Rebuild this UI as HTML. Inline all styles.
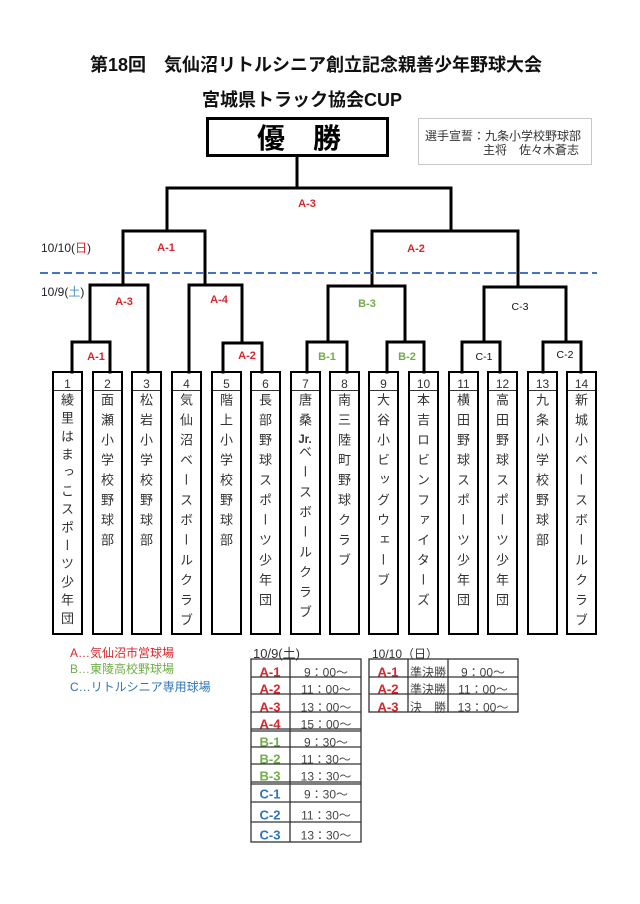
<!DOCTYPE html>
<html><head><meta charset="utf-8">
<style>
html,body{margin:0;padding:0;background:#fff;}
body{width:640px;height:904px;position:relative;overflow:hidden;font-family:"Liberation Sans","Noto Sans CJK JP",sans-serif;}
.a{position:absolute;white-space:nowrap;}
.c{position:absolute;white-space:nowrap;transform:translate(-50%,-50%);}
.lbl{font-size:11px;font-weight:bold;}
.r{color:#d9262c;} .g{color:#70ad47;} .b{color:#2e75b6;}
.box{position:absolute;top:371px;width:31px;height:264px;border:2.5px solid #000;box-sizing:border-box;}
.num{position:absolute;left:0;right:0;top:0;height:17px;border-bottom:1px solid #333;font-size:12px;color:#333;text-align:center;line-height:22px;font-family:"Liberation Sans",sans-serif;}
.vt{position:absolute;left:0;top:20px;width:26px;line-height:26px;writing-mode:vertical-rl;font-family:"Noto Sans CJK JP",sans-serif;font-size:13px;letter-spacing:7px;color:#333;}
.tcu{text-combine-upright:all;font-family:"Liberation Sans",sans-serif;font-weight:bold;font-size:12px;}
.tm{font-size:12px;color:#444;font-family:"Liberation Sans","Noto Sans CJK JP",sans-serif;}
.tl{font-size:13px;font-weight:bold;}
</style></head><body>

<!-- Title -->
<div class="a" style="left:90px;top:53px;font-size:18px;font-weight:bold;line-height:24px;color:#111;">第18回　気仙沼リトルシニア創立記念親善少年野球大会</div>
<div class="a" style="left:202px;top:88px;font-size:18px;font-weight:bold;line-height:24px;color:#111;">宮城県トラック協会CUP</div>

<!-- Champion box -->
<div class="a" style="left:206px;top:117px;width:183px;height:40px;border:3px solid #000;box-sizing:border-box;"></div>
<div class="c" style="left:299px;top:137px;font-size:28px;font-weight:bold;font-family:'Noto Sans CJK JP',sans-serif;line-height:32px;">優　勝</div>

<!-- Info box -->
<div class="a" style="left:418px;top:118px;width:174px;height:47px;border:1px solid #c8c8c8;box-sizing:border-box;"></div>
<div class="a" style="left:425px;top:128px;font-size:12px;line-height:16px;color:#333;font-family:'Noto Sans CJK JP',sans-serif;">選手宣誓：九条小学校野球部</div>
<div class="a" style="right:61px;top:142px;font-size:12px;line-height:16px;color:#333;font-family:'Noto Sans CJK JP',sans-serif;">主将　佐々木蒼志</div>

<!-- Date labels -->
<div class="a" style="left:41px;top:240px;font-size:12px;line-height:16px;color:#222;">10/10(<span class="r">日</span>)</div>
<div class="a" style="left:41px;top:284px;font-size:12px;line-height:16px;color:#222;">10/9(<span style="color:#4a8fc4">土</span>)</div>

<!-- Bracket lines -->
<svg class="a" style="left:0;top:0" width="640" height="904" viewBox="0 0 640 904">
<g fill="none" stroke="#000" stroke-width="3" stroke-linecap="square">
<path d="M297 157 V188"/>
<path d="M167 231 V188 H451 V231"/>
<path d="M123 285 V231 H205 V285"/>
<path d="M372 286 V231 H518 V287"/>
<path d="M90 342 V285 H148 V372"/>
<path d="M189 372 V285 H242 V343"/>
<path d="M72 372 V342 H110 V372"/>
<path d="M223 372 V343 H262 V372"/>
<path d="M328 342 V286 H405 V342"/>
<path d="M307 372 V342 H347 V372"/>
<path d="M387 372 V342 H424 V372"/>
<path d="M484 342 V287 H566 V342"/>
<path d="M462 372 V342 H500 V372"/>
<path d="M543 372 V342 H581 V372"/>
</g>
<line x1="40" y1="273" x2="597" y2="273" stroke="#4472c4" stroke-width="2" stroke-dasharray="8 4"/>
</svg>

<!-- Bracket labels -->
<div class="c lbl r" style="left:307px;top:204px;">A-3</div>
<div class="c lbl r" style="left:166px;top:248px;">A-1</div>
<div class="c lbl r" style="left:416px;top:249px;">A-2</div>
<div class="c lbl r" style="left:124px;top:302px;">A-3</div>
<div class="c lbl r" style="left:219px;top:300px;">A-4</div>
<div class="c lbl g" style="left:367px;top:304px;">B-3</div>
<div class="c" style="left:520px;top:307px;font-size:10.5px;color:#111;">C-3</div>
<div class="c lbl r" style="left:96px;top:357px;">A-1</div>
<div class="c lbl r" style="left:247px;top:356px;">A-2</div>
<div class="c lbl g" style="left:327px;top:357px;">B-1</div>
<div class="c lbl g" style="left:407px;top:357px;">B-2</div>
<div class="c" style="left:484px;top:357px;font-size:10.5px;color:#111;">C-1</div>
<div class="c" style="left:565px;top:355px;font-size:10.5px;color:#111;">C-2</div>

<!-- Team boxes -->
<div class="box" style="left:52px;"><div class="num">1</div><div class="vt" style="letter-spacing:5.2px;">綾里はまっこスポーツ少年団</div></div>
<div class="box" style="left:92px;"><div class="num">2</div><div class="vt">面瀬小学校野球部</div></div>
<div class="box" style="left:131px;"><div class="num">3</div><div class="vt">松岩小学校野球部</div></div>
<div class="box" style="left:171px;"><div class="num">4</div><div class="vt">気仙沼ベースボールクラブ</div></div>
<div class="box" style="left:211px;"><div class="num">5</div><div class="vt">階上小学校野球部</div></div>
<div class="box" style="left:250px;"><div class="num">6</div><div class="vt">長部野球スポーツ少年団</div></div>
<div class="box" style="left:290px;"><div class="num">7</div><div class="vt">唐桑<span class="tcu">Jr.</span>ベースボールクラブ</div></div>
<div class="box" style="left:329px;"><div class="num">8</div><div class="vt">南三陸町野球クラブ</div></div>
<div class="box" style="left:368px;"><div class="num">9</div><div class="vt">大谷小ビッグウェーブ</div></div>
<div class="box" style="left:408px;"><div class="num">10</div><div class="vt">本吉ロビンファイターズ</div></div>
<div class="box" style="left:448px;"><div class="num">11</div><div class="vt">横田野球スポーツ少年団</div></div>
<div class="box" style="left:487px;"><div class="num">12</div><div class="vt">高田野球スポーツ少年団</div></div>
<div class="box" style="left:527px;"><div class="num">13</div><div class="vt">九条小学校野球部</div></div>
<div class="box" style="left:566px;"><div class="num">14</div><div class="vt">新城小ベースボールクラブ</div></div>

<!-- Legend -->
<div class="a r" style="left:70px;top:645px;font-size:12px;line-height:16px;">A…気仙沼市営球場</div>
<div class="a g" style="left:70px;top:661px;font-size:12px;line-height:16px;">B…東陵高校野球場</div>
<div class="a b" style="left:70px;top:679px;font-size:12px;line-height:16px;">C…リトルシニア専用球場</div>

<!-- Schedule headers -->
<div class="a" style="left:253px;top:646px;font-size:13px;line-height:16px;color:#333;">10/9(土)</div>
<div class="a" style="left:372px;top:646px;font-size:12px;line-height:16px;color:#333;">10/10（日）</div>

<!-- Left table text -->
<div class="c tl r" style="left:270px;top:672px;">A-1</div><div class="c tm" style="left:326px;top:672px;">9：00～</div>
<div class="c tl r" style="left:270px;top:689px;">A-2</div><div class="c tm" style="left:326px;top:689px;">11：00～</div>
<div class="c tl r" style="left:270px;top:707px;">A-3</div><div class="c tm" style="left:326px;top:707px;">13：00～</div>
<div class="c tl r" style="left:270px;top:724px;">A-4</div><div class="c tm" style="left:326px;top:724px;">15：00～</div>
<div class="c tl g" style="left:270px;top:742px;">B-1</div><div class="c tm" style="left:326px;top:742px;">9：30～</div>
<div class="c tl g" style="left:270px;top:759px;">B-2</div><div class="c tm" style="left:326px;top:759px;">11：30～</div>
<div class="c tl g" style="left:270px;top:776px;">B-3</div><div class="c tm" style="left:326px;top:776px;">13：30～</div>
<div class="c tl b" style="left:270px;top:794px;">C-1</div><div class="c tm" style="left:326px;top:794px;">9：30～</div>
<div class="c tl b" style="left:270px;top:815px;">C-2</div><div class="c tm" style="left:326px;top:815px;">11：30～</div>
<div class="c tl b" style="left:270px;top:835px;">C-3</div><div class="c tm" style="left:326px;top:835px;">13：30～</div>

<!-- Right table text -->
<div class="c tl r" style="left:388px;top:672px;">A-1</div><div class="c tm" style="left:428px;top:672px;">準決勝</div><div class="c tm" style="left:483px;top:672px;">9：00～</div>
<div class="c tl r" style="left:388px;top:689px;">A-2</div><div class="c tm" style="left:428px;top:689px;">準決勝</div><div class="c tm" style="left:483px;top:689px;">11：00～</div>
<div class="c tl r" style="left:388px;top:707px;">A-3</div><div class="c tm" style="left:428px;top:707px;">決　勝</div><div class="c tm" style="left:483px;top:707px;">13：00～</div>

<!-- Table lines -->
<svg class="a" style="left:0;top:0" width="640" height="904" viewBox="0 0 640 904">
<g fill="none" stroke="#333" stroke-width="1.3">
<rect x="251" y="659" width="110" height="183"/>
<line x1="290" y1="659" x2="290" y2="842"/>
<line x1="251" y1="677" x2="361" y2="677"/>
<line x1="251" y1="694" x2="361" y2="694"/>
<line x1="251" y1="712" x2="361" y2="712"/>
<line x1="251" y1="729" x2="361" y2="729"/>
<line x1="251" y1="731" x2="361" y2="731"/>
<line x1="251" y1="747" x2="361" y2="747"/>
<line x1="251" y1="764" x2="361" y2="764"/>
<line x1="251" y1="782" x2="361" y2="782"/>
<line x1="251" y1="784" x2="361" y2="784"/>
<line x1="251" y1="802" x2="361" y2="802"/>
<line x1="251" y1="822" x2="361" y2="822"/>
<rect x="369" y="659" width="149" height="53"/>
<line x1="408" y1="659" x2="408" y2="712"/>
<line x1="448" y1="659" x2="448" y2="712"/>
<line x1="369" y1="677" x2="518" y2="677"/>
<line x1="369" y1="694" x2="518" y2="694"/>
</g>
</svg>

</body></html>
